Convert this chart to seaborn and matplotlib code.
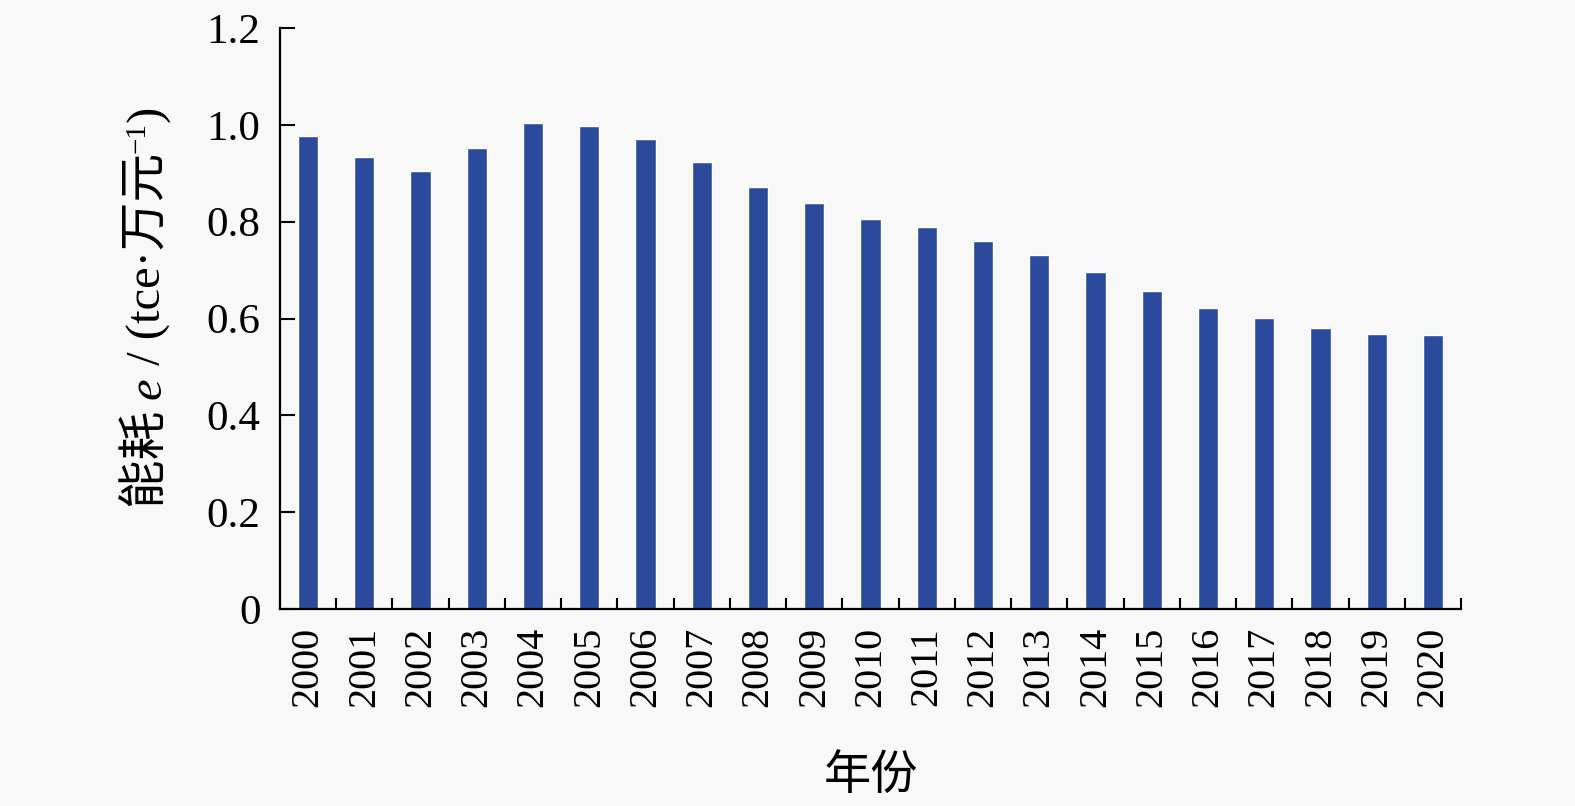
import matplotlib
matplotlib.use("Agg")
import matplotlib.pyplot as plt
import seaborn as sns
import pandas as pd
import numpy as np

years = [str(y) for y in range(2000, 2021)]
energy = [0.977, 0.934, 0.905, 0.952, 1.003, 0.998, 0.971, 0.924, 0.872, 0.839,
          0.806, 0.789, 0.760, 0.731, 0.696, 0.657, 0.622, 0.601, 0.581, 0.568, 0.566]
yticks = [0, 0.2, 0.4, 0.6, 0.8, 1.0, 1.2]
ytick_labels = ["0", "0.2", "0.4", "0.6", "0.8", "1.0", "1.2"]

sns.set_theme(style="white")
FAM = ['Liberation Serif', 'Noto Sans CJK SC', 'DejaVu Sans']
plt.rcParams['font.family'] = FAM
plt.rcParams['text.color'] = 'black'
plt.rcParams['xtick.color'] = 'black'
plt.rcParams['ytick.color'] = 'black'
plt.rcParams['axes.labelcolor'] = 'black'

df = pd.DataFrame({"year": years, "e": energy})

W, H = 1575, 806
fig = plt.figure(figsize=(W / 100, H / 100), dpi=100, facecolor="#f8f8f8")
ax = fig.add_axes([280 / W, 1 - 609 / H, (1461 - 280) / W, (609 - 28) / H])
ax.set_facecolor("#f8f8f8")

sns.barplot(data=df, x="year", y="e", color="#2b4a9c", saturation=1, width=0.36, ax=ax)

ax.set_xlim(-0.5, len(years) - 0.5)
ax.set_ylim(0, 1.2)
ax.set_yticks(yticks)
ax.set_yticklabels(ytick_labels, fontsize=31)
ax.set_xticks(range(len(years)))
ax.set_xticklabels(years, rotation=90, fontsize=29)
ax.set_xticks(np.arange(-0.5, len(years), 1.0), minor=True)

ax.tick_params(axis='y', direction='in', length=11, width=1.5, color='black', pad=14, left=True)
ax.tick_params(axis='x', which='major', length=0, pad=13)
ax.tick_params(axis='x', which='minor', direction='in', length=8, width=1.5, color='black', bottom=True)

for s in ['top', 'right']:
    ax.spines[s].set_visible(False)
for s in ['left', 'bottom']:
    ax.spines[s].set_linewidth(1.6)
    ax.spines[s].set_color('black')

ax.set_xlabel("年份", fontsize=34, labelpad=34)
ax.set_ylabel("")

# y label composed of pieces (CJK + italic e + superscript)
fs = 35
pieces = [
    ("能耗 ", dict(fontsize=fs), 0),
    ("e", dict(fontsize=fs, style='italic'), 0),
    (" / (tce·万元", dict(fontsize=fs), 0),
    ("−1", dict(fontsize=fs * 0.6), 15),
    (")", dict(fontsize=fs), 0),
]
renderer = fig.canvas.get_renderer()
lengths = []
for txt, kw, _ in pieces:
    t = fig.text(0, 0, txt, rotation=90, rotation_mode='anchor', ha='left', va='baseline',
                 family=FAM, **kw)
    bb = t.get_window_extent(renderer)
    lengths.append(bb.height)
    t.remove()
total = sum(lengths)
center_y = H - 307
base_x = 160
y = center_y - total / 2
for (txt, kw, raise_px), L in zip(pieces, lengths):
    fig.text((base_x - raise_px) / W, y / H, txt, rotation=90, rotation_mode='anchor',
             ha='left', va='baseline', family=FAM, color='black', **kw)
    y += L

fig.savefig("out.png", dpi=100, facecolor=fig.get_facecolor())
